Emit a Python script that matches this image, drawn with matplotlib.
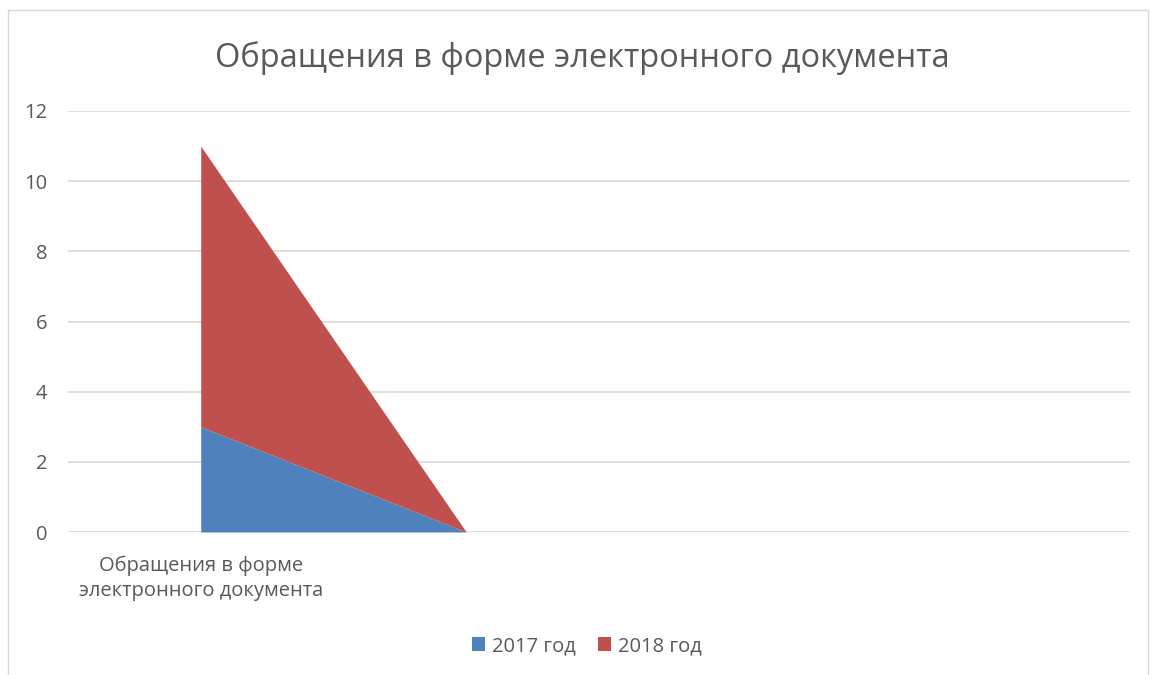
import numpy as np
import matplotlib.pyplot as plt
from matplotlib.patches import Rectangle

plt.rcParams['font.family'] = ['Open Sans', 'DejaVu Sans']

# данные
categories = ['Обращения в форме\nэлектронного документа', '', '', '']
series_names = ['2017 год', '2018 год']
values_2017 = [3, 0, np.nan, np.nan]
values_2018 = [8, 0, np.nan, np.nan]
colors = ['#4f81bd', '#c0504d']
title = 'Обращения в форме электронного документа'

fig = plt.figure(figsize=(11.5, 6.75), dpi=100)
# рамка области диаграммы
fig.patches.append(Rectangle((8 / 1150, -0.1), 1140 / 1150, 1.1 - 10 / 675,
                             transform=fig.transFigure, fill=False,
                             edgecolor='#d9d9d9', linewidth=1.0))

ax = fig.add_axes([68 / 1150, 1 - 532 / 675, 1062 / 1150, 421 / 675])

x = np.arange(len(categories))
low = np.array(values_2017, dtype=float)
high = low + np.array(values_2018, dtype=float)
ax.fill_between(x, 0, low, color=colors[0], linewidth=0, label=series_names[0])
ax.fill_between(x, low, high, color=colors[1], linewidth=0, label=series_names[1])

ax.set_xlim(-0.5, len(categories) - 0.5)
ax.set_ylim(0, 12)
ax.set_yticks(range(0, 13, 2))
ax.set_xticks(x)
ax.set_xticklabels(categories, linespacing=1.35)
ax.grid(axis='y', color='#d9d9d9', linewidth=1.2)
ax.set_axisbelow(True)
for s in ax.spines.values():
    s.set_visible(False)
ax.tick_params(length=0, labelsize=14.5, labelcolor='#595959')
ax.tick_params(axis='y', pad=15)
ax.tick_params(axis='x', pad=17)

fig.text(582 / 1150, 1 - 58 / 675, title, ha='center', va='center',
         fontsize=23.5, color='#595959')

leg = fig.legend(loc='center', bbox_to_anchor=(587 / 1150, 1 - 646 / 675),
                 ncol=2, frameon=False, fontsize=14.5, handlelength=0.65,
                 handleheight=0.65, handletextpad=0.35, columnspacing=1.1)
for t in leg.get_texts():
    t.set_color('#595959')

fig.savefig('out.png', dpi=100)
